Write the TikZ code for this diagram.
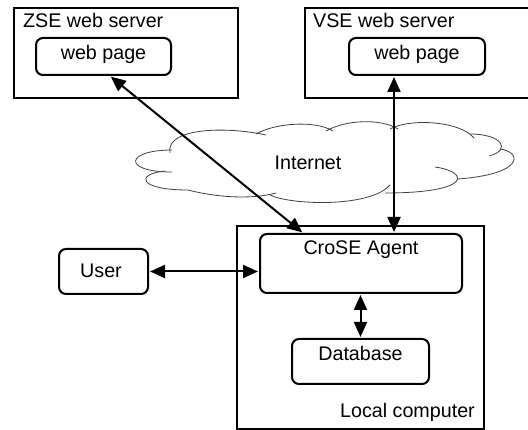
\documentclass[tikz,border=0pt]{standalone}
\usepackage{fontspec}
\setmainfont{Liberation Sans}
\usetikzlibrary{arrows.meta}
\begin{document}
\begin{tikzpicture}[x=1pt,y=-1pt,
  every node/.style={font=\fontsize{19.7}{23}\selectfont, inner sep=0pt},
  frame/.style={draw, line width=2pt, rectangle},
  unit/.style={draw, line width=2pt, rectangle, rounded corners=7pt},
  link/.style={line width=2pt, {Triangle[length=15pt,width=13pt]}-{Triangle[length=15pt,width=13pt]}, shorten <=1pt, shorten >=1pt},
  lobe/.style={draw=black!75, line width=0.8pt}
]
\useasboundingbox (0,0) rectangle (528,430);
\clip (0,0) rectangle (528,430);

% servers and their pages
\node[frame, minimum width=224pt, minimum height=90pt] (zse) at (126,53) {};
\node[anchor=base west] (zsel) at (23,28) {ZSE web server};
\node[unit, minimum width=135pt, minimum height=37pt] (zpage) at (103.5,56.5) {};
\node[anchor=base] (zpaget) at (103.5,60) {web page};

\node[frame, minimum width=230pt, minimum height=90pt] (vse) at (420,53) {};
\node[anchor=base west] (vsel) at (313,28) {VSE web server};
\node[unit, minimum width=136pt, minimum height=37pt] (vpage) at (417,56.5) {};
\node[anchor=base] (vpaget) at (417,60) {web page};

% the Internet cloud
\path[lobe] (172,150) .. controls (125,150) and (122,172) .. (172,172);
\path[lobe] (165,171) .. controls (135,174) and (138,190) .. (188,190)
                      .. controls (215,197) and (250,200) .. (276,193);
\path[lobe] (270,195) .. controls (290,205) and (370,208) .. (390,185);
\path[lobe] (435,167) .. controls (470,172) and (472,193) .. (385,193);
\path[lobe] (458,179) .. controls (525,174) and (522,152) .. (500,149);
\path[lobe] (470,134) .. controls (502,134) and (512,150) .. (489,156);
\path[lobe] (390,129) .. controls (410,118) and (460,121) .. (474,138);
\path[lobe] (326,131) .. controls (345,120) and (380,118) .. (398,129);
\path[lobe] (256,134) .. controls (275,123) and (315,120) .. (333,131);
\path[lobe] (170,153) .. controls (165,128) and (225,126) .. (266,135);
\node[anchor=base] (inet) at (308,170) {Internet};

% local side
\node[frame, minimum width=247pt, minimum height=203pt] (local) at (360.5,327.5) {};
\node[anchor=base east] (locall) at (475,418) {Local computer};
\node[unit, minimum width=202pt, minimum height=59pt] (agent) at (361,263.5) {};
\node[anchor=base] (agentt) at (361,255) {CroSE Agent};
\node[unit, minimum width=137pt, minimum height=45pt] (db) at (360.5,361.5) {};
\node[anchor=base] (dbt) at (360.5,361) {Database};
\node[unit, minimum width=89pt, minimum height=45pt] (user) at (103.5,271.5) {};
\node[anchor=base] (usert) at (101,278) {User};

% connections
\draw[link] ([xshift=6.5pt]zpage.south) -- ([xshift=-58pt]agent.north);
\draw[link] ([xshift=-23pt]vpage.south) -- ([xshift=-23pt]vpage.south |- agent.north);
\draw[link] (user.east) -- (user.east -| agent.west);
\draw[link] (agent.south -| db.north) -- (db.north);
\end{tikzpicture}
\end{document}
